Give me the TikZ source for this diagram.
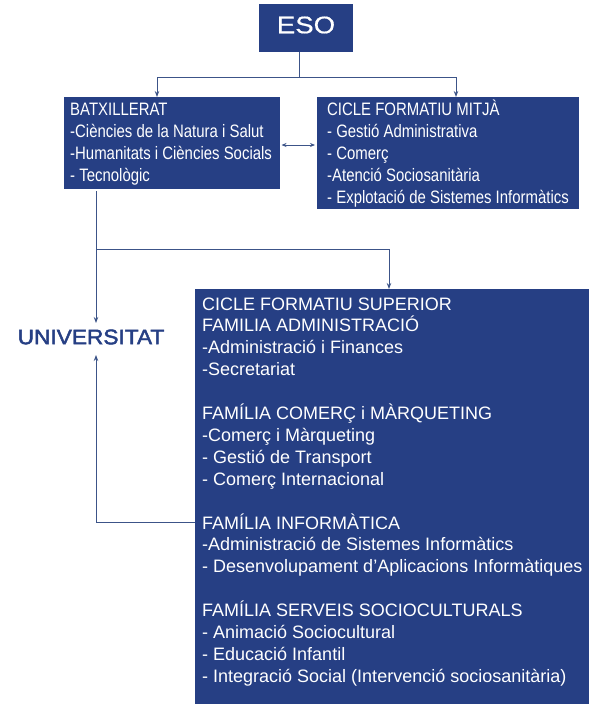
\documentclass[tikz,border=0pt]{standalone}
\usepackage{fontspec}
\setmainfont{Liberation Sans}
\newfontfamily\narrowf[FakeStretch=0.83]{Liberation Sans}
\newfontfamily\esof[FakeStretch=1.15,FakeBold=0.6]{Liberation Sans}
\newfontfamily\univf[FakeStretch=1.08,FakeBold=2.2]{Liberation Sans}
\usetikzlibrary{arrows.meta}
\definecolor{boxblue}{HTML}{263F84}
\definecolor{lineblue}{HTML}{3C5488}
\begin{document}
\begin{tikzpicture}[x=1pt,y=-1pt,
  box/.style={fill=boxblue, draw=none, inner sep=0, outer sep=0, anchor=north west},
  uptext/.style={text=white, font=\narrowf\fontsize{18}{22}\selectfont, anchor=base west, inner sep=0},
  lowtext/.style={text=white, font=\fontsize{18}{22}\selectfont, anchor=base west, inner sep=0},
  conn/.style={draw=lineblue, line width=1pt},
  tipstyle/.style={-{Stealth[length=6pt,width=4.5pt]}},
  arr/.style={conn, tipstyle},
]
\useasboundingbox (0,0) rectangle (589,704);
% boxes
\node[box, minimum width=94, minimum height=48] (eso) at (259,4) {};
\node[box, minimum width=216, minimum height=92] (bat) at (64,97) {};
\node[box, minimum width=262, minimum height=112] (cfm) at (317,97) {};
\node[box, minimum width=394, minimum height=415] (cfs) at (195,289) {};
% titles
\node[text=white, font=\esof\fontsize{24}{28}\selectfont, inner sep=0] (esotext) at (306,25) {ESO};
\node[text=boxblue, font=\univf\fontsize{21}{24}\selectfont, inner sep=0] (univ) at (91,337) {UNIVERSITAT};
% batxillerat text
\foreach \t [count=\i from 0] in {BATXILLERAT, -Ciències de la Natura i Salut, -Humanitats i Ciències Socials, - Tecnològic}
  \node[uptext, name=bat\i] at (70, 115+22*\i) {\t};
% cicle formatiu mitja text
\foreach \t [count=\i from 0] in {CICLE FORMATIU MITJÀ, - Gestió Administrativa, - Comerç, -Atenció Sociosanitària, - Explotació de Sistemes Informàtics}
  \node[uptext, name=cfm\i] at (327, 115+22*\i) {\t};
% cicle formatiu superior text
\foreach \k/\t in {0/CICLE FORMATIU SUPERIOR, 1/FAMILIA ADMINISTRACIÓ, 2/-Administració i Finances, 3/-Secretariat,
  5/FAMÍLIA COMERÇ i MÀRQUETING, 6/-Comerç i Màrqueting, 7/- Gestió de Transport, 8/- Comerç Internacional,
  10/FAMÍLIA INFORMÀTICA, 11/-Administració de Sistemes Informàtics, 12/- Desenvolupament d’Aplicacions Informàtiques,
  14/FAMÍLIA SERVEIS SOCIOCULTURALS, 15/- Animació Sociocultural, 16/- Educació Infantil, 17/- Integració Social (Intervenció sociosanitària)}
  \node[lowtext, name=cfs\k] at (202, 310+21.9*\k) {\t};
% connector points
\coordinate (esoout) at (299,52);
\coordinate (j1) at (299,77);
\coordinate (batin) at (157,97);
\coordinate (cfmin) at (456,97);
\coordinate (ymid) at (0,145);
\coordinate (batout) at (96,191);
\coordinate (j2) at (96,249);
\coordinate (cfsin) at (389,289);
\coordinate (univtop) at (96,323);
\coordinate (univbot) at (96,355);
\coordinate (yinf) at (0,522);
% connectors
\draw[conn] (eso.south -| esoout) -- (j1);
\draw[arr] (j1) -| (batin);
\draw[arr] (j1) -| (cfmin);
\draw[conn, {Stealth[length=5pt,width=4pt]}-{Stealth[length=5pt,width=4pt]}, shorten <=1.5pt, shorten >=2pt] (bat.east |- ymid) -- (cfm.west |- ymid);
\draw[arr] (batout) -- (univtop);
\draw[arr] (j2) -| (cfsin);
\draw[arr] (cfs.west |- yinf) -| (univbot);
\end{tikzpicture}
\end{document}
